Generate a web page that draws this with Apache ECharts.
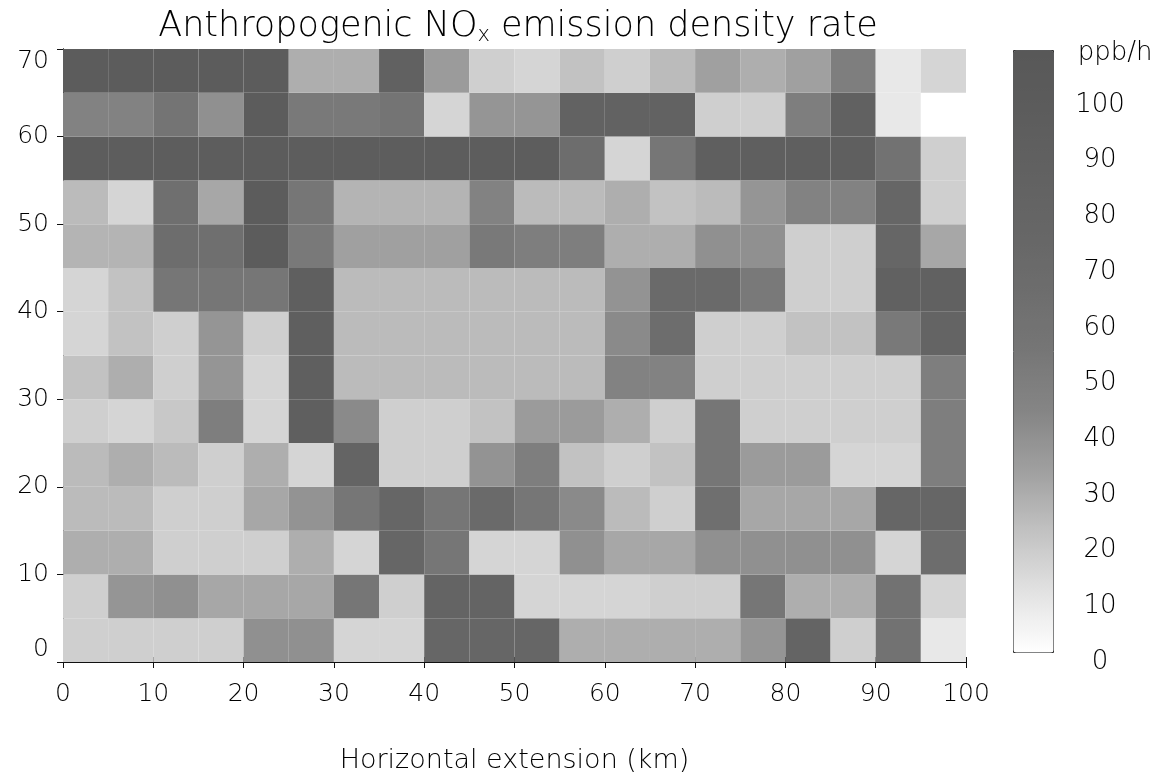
<!DOCTYPE html>
<html>
<head>
<meta charset="utf-8">
<script src="https://cdn.jsdelivr.net/npm/echarts@6/dist/echarts.min.js"></script>
<style>html,body{margin:0;padding:0;background:#fff;}#chart{width:1162px;height:775px;}</style>
</head>
<body>
<div id="chart"></div>
<script>
// Cell size (km) and tick labels
const cellWidth = 5;
const cellHeight = 5;
const xTicks = [0, 10, 20, 30, 40, 50, 60, 70, 80, 90, 100];
const yTicks = [0, 10, 20, 30, 40, 50, 60, 70];
const colorbarTicks = [0, 10, 20, 30, 40, 50, 60, 70, 80, 90, 100];

// Emission density (ppb/h), one array per 5-km row, x = 0..100 km in 5-km steps
const row65_70 = [90,90,90,90,90,26,26,80,32,16,14,20,16,22,30,26,30,45,8,14];
const row60_65 = [42,42,52,36,90,48,48,52,14,34,34,78,78,78,16,16,45,80,8,0];
const row55_60 = [88,88,88,88,90,88,88,88,88,88,88,60,14,50,85,85,85,85,55,16];
const row50_55 = [22,14,58,28,90,50,24,24,24,42,22,22,26,20,22,34,42,42,70,16];
const row45_50 = [24,24,60,58,90,48,30,30,30,48,45,45,26,26,36,36,16,16,70,28];
const row40_45 = [14,20,50,50,50,85,22,22,22,22,22,22,35,65,65,48,16,16,80,80];
const row35_40 = [14,20,16,34,16,85,22,22,22,22,22,22,38,60,16,16,20,20,48,75];
const row30_35 = [20,26,16,34,14,85,22,22,22,22,22,22,42,42,16,16,16,16,16,45];
const row25_30 = [16,14,18,45,14,85,38,16,16,20,32,32,26,16,50,16,16,16,16,45];
const row20_25 = [22,26,22,16,26,14,75,16,16,35,45,20,16,20,50,32,32,14,14,45];
const row15_20 = [22,22,16,16,28,35,50,70,50,65,50,38,22,16,58,28,28,28,70,70];
const row10_15 = [26,26,16,16,16,26,14,70,50,14,14,36,28,28,36,36,36,36,14,60];
const row05_10 = [16,34,36,28,28,28,50,16,75,75,14,14,14,16,16,50,26,26,55,14];
const row00_05 = [16,16,16,16,36,36,14,14,70,70,70,26,26,26,26,34,75,16,55,8];

// bottom row first
const rowsBottomUp = [row00_05,row05_10,row10_15,row15_20,row20_25,row25_30,row30_35,
  row35_40,row40_45,row45_50,row50_55,row55_60,row60_65,row65_70];

const cells = [];
rowsBottomUp.forEach(function (row, r) {
  row.forEach(function (v, c) {
    cells.push([c * cellWidth, r * cellHeight, v]);
  });
});

const FONT = 'DejaVu Sans';
const W = 200;
const TXT = '#000';
const chart = echarts.init(document.getElementById('chart'), null, {renderer: 'canvas'});

function renderCell(params, api) {
  const x0 = api.value(0), y0 = api.value(1);
  const p0 = api.coord([x0, y0 + cellHeight]);
  const p1 = api.coord([x0 + cellWidth, y0]);
  return {
    type: 'rect',
    shape: {x: p0[0], y: p0[1], width: p1[0] - p0[0], height: p1[1] - p0[1]},
    style: {fill: api.visual('color')}
  };
}

const option = {
  backgroundColor: '#ffffff',
  animation: false,
  title: {
    text: '{a|Anthropogenic NO}{s|x}{a| emission density rate}',
    left: 513,
    textAlign: 'center',
    top: 3,
    textStyle: {
      fontWeight: W,
      rich: {
        a: {fontFamily: FONT, fontSize: 35, fontWeight: W, color: TXT},
        s: {fontFamily: FONT, fontSize: 21, fontWeight: W, color: TXT, padding: [17, 0, 0, 0]}
      }
    }
  },
  grid: [
    {left: 63, top: 49, width: 903, height: 613, containLabel: false, outerBoundsMode: 'none'},
    {left: 1100, top: 105, width: 1, height: 557, containLabel: false, outerBoundsMode: 'none'}
  ],
  xAxis: [
    {
      type: 'value', gridIndex: 0, min: xTicks[0], max: xTicks[xTicks.length - 1], interval: 10,
      position: 'bottom',
      name: 'Horizontal extension (km)', nameLocation: 'middle', nameGap: 85,
      nameTextStyle: {fontFamily: FONT, fontSize: 27, fontWeight: W, color: TXT},
      axisLine: {show: true, lineStyle: {color: '#111', width: 1}},
      axisTick: {show: true, inside: false, length: 6, lineStyle: {color: '#111'}},
      axisLabel: {fontFamily: FONT, fontSize: 25, fontWeight: W, color: TXT, margin: 20},
      splitLine: {show: false}
    },
    {
      type: 'value', gridIndex: 0, min: xTicks[0], max: xTicks[xTicks.length - 1], interval: 10,
      position: 'top',
      axisLine: {show: true, lineStyle: {color: '#111', width: 1}},
      axisTick: {show: true, inside: false, length: 5, lineStyle: {color: '#111'}},
      axisLabel: {show: false},
      splitLine: {show: false}
    },
    {
      type: 'value', gridIndex: 1, min: 0, max: 1, show: false
    }
  ],
  yAxis: [
    {
      type: 'value', gridIndex: 0, min: yTicks[0], max: yTicks[yTicks.length - 1], interval: 10,
      position: 'left',
      axisLine: {show: true, lineStyle: {color: '#111', width: 1}},
      axisTick: {show: true, inside: false, length: 6, lineStyle: {color: '#111'}},
      axisLabel: {fontFamily: FONT, fontSize: 25, fontWeight: W, color: TXT, margin: 14,
        verticalAlignMaxLabel: 'top', verticalAlignMinLabel: 'bottom'},
      splitLine: {show: false}
    },
    {
      type: 'value', gridIndex: 0, min: yTicks[0], max: yTicks[yTicks.length - 1], interval: 10,
      position: 'right',
      axisLine: {show: true, lineStyle: {color: '#111', width: 1}},
      axisTick: {show: false},
      axisLabel: {show: false},
      splitLine: {show: false}
    },
    {
      type: 'value', gridIndex: 1, min: colorbarTicks[0], max: colorbarTicks[colorbarTicks.length - 1], interval: 10,
      position: 'left',
      name: 'ppb/h', nameLocation: 'end', nameGap: 52,
      nameTextStyle: {fontFamily: FONT, fontSize: 26, fontWeight: W, color: TXT, align: 'center',
        verticalAlign: 'middle', padding: [0, 0, 0, 30]},
      axisLine: {show: false},
      axisTick: {show: false},
      axisLabel: {fontFamily: FONT, fontSize: 26, fontWeight: W, color: TXT, margin: 0, align: 'center'},
      splitLine: {show: false}
    }
  ],
  visualMap: {
    type: 'continuous',
    min: 0, max: 100,
    dimension: 2,
    seriesIndex: 0,
    calculable: false,
    hoverLink: false,
    orient: 'vertical',
    left: 1013, top: 50,
    itemWidth: 40, itemHeight: 602,
    padding: 0,
    borderColor: '#333', borderWidth: 1,
    text: null,
    inRange: {
      color: ['#ffffff', '#e2e2e2', '#c2c2c2', '#a0a0a0', '#858585', '#767676',
              '#6d6d6d', '#666666', '#616161', '#5c5c5c', '#585858']
    }
  },
  series: [{
    type: 'custom',
    xAxisIndex: 0,
    yAxisIndex: 0,
    renderItem: renderCell,
    encode: {x: 0, y: 1},
    data: cells,
    silent: true
  }]
};
chart.setOption(option);
</script>
</body>
</html>
